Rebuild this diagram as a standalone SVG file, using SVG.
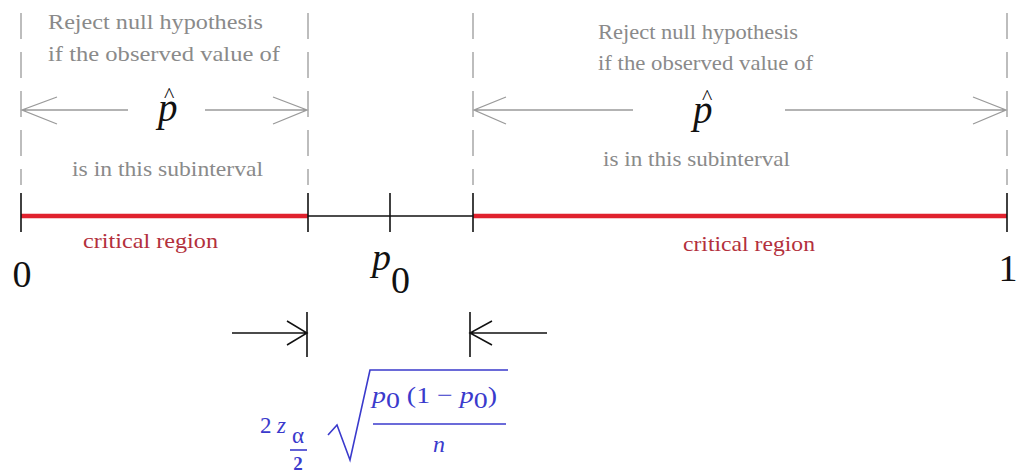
<svg xmlns="http://www.w3.org/2000/svg" width="1022" height="472" viewBox="0 0 1022 472">
<style>
.note{font-family:"Liberation Serif",serif;font-size:21px;fill:#8a8a8a}
.crit{font-family:"Liberation Serif",serif;font-size:21px;fill:#b3303c}
.num{font-family:"Liberation Serif",serif;fill:#111}
.it{font-style:italic}
.hat{font-style:normal;font-size:22px}
.dash{stroke:#9a9a9a;stroke-width:1.3;stroke-dasharray:26 13;fill:none}
.garr{stroke:#9a9a9a;stroke-width:1.3;fill:none}
.tick{stroke:#111;stroke-width:1.6;fill:none}
.red{stroke:#e0222e;stroke-width:4.5;fill:none}
.blk{stroke:#111;stroke-width:1.5;fill:none}
.blue{font-family:"Liberation Serif",serif;fill:#3a3acc}
.bline{stroke:#3a3acc;stroke-width:1.6;fill:none}
</style>
<rect width="1022" height="472" fill="#fff"/>
<g id="connectors">
  <line class="dash" x1="21" y1="13" x2="21" y2="185"/>
  <line class="dash" x1="308" y1="13" x2="308" y2="185"/>
  <line class="dash" x1="473" y1="13" x2="473" y2="185"/>
  <line class="dash" x1="1007" y1="13" x2="1007" y2="185"/>
  <path class="garr" d="M22,110 H128 M57,97 L22,110 L57,124"/>
  <path class="garr" d="M205,110 H307 M273,97 L307,110 L273,124"/>
  <path class="garr" d="M474,110 H633 M506,97 L474,110 L506,124"/>
  <path class="garr" d="M785,110 H1006 M973,97 L1006,110 L973,124"/>
  <path class="blk" d="M232,333 H307 M287,321 L307,333 L287,345"/>
  <path class="blk" d="M470,333 H547 M492,321 L470,333 L492,345"/>
  <line class="tick" x1="307" y1="312" x2="307" y2="357"/>
  <line class="tick" x1="470" y1="312" x2="470" y2="357"/>
</g>
<g id="axis">
  <line class="red" x1="21" y1="216" x2="308" y2="216"/>
  <line class="blk" x1="308" y1="216" x2="473" y2="216"/>
  <line class="red" x1="473" y1="216" x2="1007" y2="216"/>
  <line class="tick" x1="21" y1="193" x2="21" y2="232"/>
  <line class="tick" x1="308" y1="193" x2="308" y2="232"/>
  <line class="tick" x1="390" y1="193" x2="390" y2="232"/>
  <line class="tick" x1="473" y1="193" x2="473" y2="232"/>
  <line class="tick" x1="1007" y1="193" x2="1007" y2="232"/>
</g>
<g id="left-note">
  <text class="note" x="48" y="29" textLength="215" lengthAdjust="spacingAndGlyphs">Reject null hypothesis</text>
  <text class="note" x="48" y="61" textLength="232" lengthAdjust="spacingAndGlyphs">if the observed value of</text>
  <text class="num it" x="158" y="121" font-size="39">p<tspan class="hat" dx="-13.5" dy="-19">^</tspan></text>
  <text class="note" x="72" y="176" textLength="191" lengthAdjust="spacingAndGlyphs">is in this subinterval</text>
</g>
<g id="right-note">
  <text class="note" x="598" y="39" textLength="200" lengthAdjust="spacingAndGlyphs">Reject null hypothesis</text>
  <text class="note" x="598" y="70" textLength="215" lengthAdjust="spacingAndGlyphs">if the observed value of</text>
  <text class="num it" x="693" y="123" font-size="39">p<tspan class="hat" dx="-10.5" dy="-19">^</tspan></text>
  <text class="note" x="603" y="166" textLength="187" lengthAdjust="spacingAndGlyphs">is in this subinterval</text>
</g>
<g id="labels">
  <text class="crit" x="83" y="248" textLength="135" lengthAdjust="spacingAndGlyphs">critical region</text>
  <text class="crit" x="683" y="251" textLength="132" lengthAdjust="spacingAndGlyphs">critical region</text>
  <text class="num" x="22" y="287" font-size="38" text-anchor="middle">0</text>
  <text class="num" x="1008" y="281" font-size="38" text-anchor="middle">1</text>
  <text class="num it" x="372" y="270" font-size="38">p</text>
  <text class="num" x="391" y="293" font-size="38">0</text>
</g>
<g id="formula">
  <text class="blue" x="260" y="433" font-size="23">2</text>
  <text class="blue it" x="277" y="433" font-size="23">z</text>
  <text class="blue" x="298" y="443" font-size="23" text-anchor="middle">α</text>
  <line class="bline" x1="290" y1="450" x2="307" y2="450"/>
  <text class="blue" x="298" y="470" font-size="19" text-anchor="middle" font-weight="bold">2</text>
  <path class="bline" d="M328,435 L337,425 L350,460 L370,370 H508"/>
  <text class="blue" x="372" y="403" font-size="24" textLength="125" lengthAdjust="spacingAndGlyphs"><tspan class="it">p</tspan><tspan dy="5">0</tspan><tspan dy="-5"> (1 − </tspan><tspan class="it">p</tspan><tspan dy="5">0</tspan><tspan dy="-5">)</tspan></text>
  <line class="bline" x1="373" y1="424" x2="506" y2="424"/>
  <text class="blue it" x="439" y="452" font-size="24" text-anchor="middle">n</text>
</g>
</svg>
